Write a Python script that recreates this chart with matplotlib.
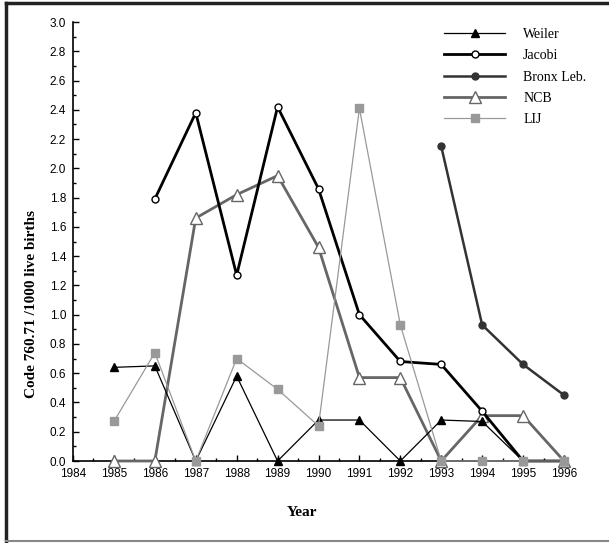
import matplotlib
matplotlib.use("Agg")
import matplotlib.pyplot as plt
from matplotlib.lines import Line2D
from matplotlib.ticker import MultipleLocator

years = list(range(1985, 1997))

weiler = [0.64, 0.65, 0.0, 0.58, 0.0, 0.28, 0.28, 0.0, 0.28, 0.27, 0.0, 0.0]
jacobi_years = list(range(1986, 1997))
jacobi = [1.79, 2.38, 1.27, 2.42, 1.86, 1.00, 0.68, 0.66, 0.34, 0.0, 0.0]
bronx_years = [1993, 1994, 1995, 1996]
bronx = [2.15, 0.93, 0.66, 0.45]
ncb = [0.0, 0.0, 1.66, 1.82, 1.95, 1.46, 0.57, 0.57, 0.0, 0.31, 0.31, 0.0]
lij = [0.27, 0.74, 0.0, 0.70, 0.49, 0.24, 2.41, 0.93, 0.0, 0.0, 0.0, 0.0]

fig = plt.figure(figsize=(6.09, 5.43), dpi=100)
ax = fig.add_axes([73/609, 1-461/543, (564-73)/609, (461-22)/543])

ax.plot(years, weiler, color='black', lw=0.9, marker='^', ms=6,
        mfc='black', mec='black', clip_on=False, zorder=5, label='Weiler')
ax.plot(jacobi_years, jacobi, color='black', lw=2.0, marker='o', ms=5,
        mfc='white', mec='black', mew=1.0, clip_on=False, zorder=4, label='Jacobi')
ax.plot(bronx_years, bronx, color='#333333', lw=1.8, marker='o', ms=5,
        mfc='#333333', mec='#333333', clip_on=False, zorder=4, label='Bronx Leb.')
ax.plot(years, ncb, color='#666666', lw=2.0, marker='^', ms=9,
        mfc='white', mec='#666666', mew=1.0, clip_on=False, zorder=3, label='NCB')
ax.plot(years, lij, color='#999999', lw=0.9, marker='s', ms=5.5,
        mfc='#999999', mec='#999999', clip_on=False, zorder=6, label='LIJ')

ax.set_xlim(1984, 1996)
ax.set_ylim(0, 3.0)
ax.xaxis.set_major_locator(MultipleLocator(1))
ax.xaxis.set_minor_locator(MultipleLocator(0.5))
ax.yaxis.set_major_locator(MultipleLocator(0.2))
ax.yaxis.set_minor_locator(MultipleLocator(0.1))
ax.yaxis.set_major_formatter(matplotlib.ticker.FormatStrFormatter('%.1f'))
ax.tick_params(which='major', direction='in', length=4, width=1.0, pad=5,
               labelsize=8.5)
ax.tick_params(which='minor', direction='in', length=2, width=1.0)
for lab in ax.get_xticklabels() + ax.get_yticklabels():
    lab.set_family('Liberation Sans')
ax.spines['top'].set_visible(False)
ax.spines['right'].set_visible(False)
ax.spines['left'].set_linewidth(1.2)
ax.spines['bottom'].set_linewidth(1.2)

fig.text(302/609, 1-513/543, 'Year', family='Liberation Serif', weight='bold',
         fontsize=11, ha='center', va='center')
fig.text(32/609, 1-304/543, 'Code 760.71 /1000 live births', family='Liberation Serif',
         weight='bold', fontsize=11, rotation=90, ha='center', va='center')

leg = ax.legend(loc='upper left', bbox_to_anchor=(437/609, 1-21/543),
                bbox_transform=fig.transFigure, frameon=False, borderpad=0,
                handlelength=4.4, handletextpad=1.3, labelspacing=0.6,
                prop={'family': 'Liberation Serif', 'size': 10})

# outer frame
fig.add_artist(Line2D([6/609, 6/609], [1-3/543, 1-541/543], color='#222222', lw=2.5))
fig.add_artist(Line2D([6/609, 1.0], [1-3/543, 1-3/543], color='#222222', lw=2.5))
fig.add_artist(Line2D([6/609, 1.0], [1-541/543, 1-541/543], color='#888888', lw=1.5))

fig.savefig("out.png", dpi=100)
